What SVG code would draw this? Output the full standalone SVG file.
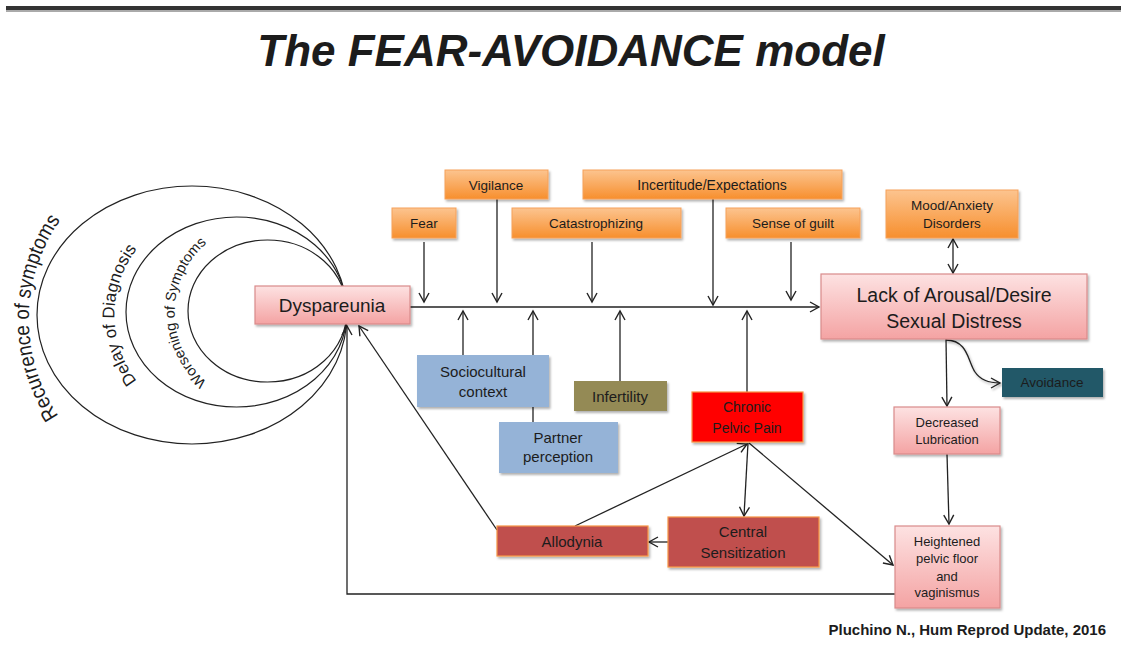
<svg xmlns="http://www.w3.org/2000/svg" width="1121" height="646" viewBox="0 0 1121 646">
<defs>
<style>
text{font-family:"Liberation Sans",Arial,sans-serif;fill:#1c1c1c;text-anchor:middle}
.ln{fill:none;stroke:#222;stroke-width:1.3}
.ar{marker-end:url(#ah)}
.pink{fill:url(#gPink);stroke:#d98b8b;stroke-width:1.2}
.org{fill:url(#gOrg);stroke:#f6a15a;stroke-width:1}
.blue{fill:#95b3d7}
.red{fill:#ff0000;stroke:#f79646;stroke-width:1.2}
.brick{fill:#c0504d;stroke:#f79646;stroke-width:1.2}
.ell{fill:none;stroke:#222;stroke-width:1.2}
</style>
<linearGradient id="gPink" x1="0" y1="0" x2="0" y2="1"><stop offset="0" stop-color="#fde2e2"/><stop offset="1" stop-color="#f4a3a3"/></linearGradient>
<linearGradient id="gOrg" x1="0" y1="0" x2="0" y2="1"><stop offset="0" stop-color="#fcc48f"/><stop offset="1" stop-color="#f78f2e"/></linearGradient>
<filter id="sh" x="-10%" y="-10%" width="130%" height="140%"><feDropShadow dx="1.5" dy="2" stdDeviation="1" flood-color="#000" flood-opacity="0.3"/></filter>
<marker id="ah" markerUnits="userSpaceOnUse" markerWidth="14" markerHeight="14" refX="10" refY="6" orient="auto-start-reverse"><path d="M1,1 L10,6 L1,11" fill="none" stroke="#222" stroke-width="1.4"/></marker>
<path id="arcR" d="M 66 426 A 172 172 0 0 1 68 210"/>
<path id="arcD" d="M 141 386 A 108 108 0 0 1 141 244"/>
<path id="arcW" d="M 212 386 A 91 91 0 0 1 212 239"/>
</defs>

<rect x="6" y="6" width="1115" height="4" fill="#333"/>
<rect x="6" y="10" width="1115" height="2" fill="#aaa"/>
<text x="571" y="66" font-size="44" font-weight="bold" font-style="italic" fill="#000">The FEAR-AVOIDANCE model</text>

<g id="cycles">
<ellipse class="ell" cx="192" cy="315" rx="155" ry="129"/>
<ellipse class="ell" cx="236.5" cy="312" rx="110.5" ry="95"/>
<ellipse class="ell" cx="267.5" cy="311" rx="79.5" ry="71"/>
<text font-size="21"><textPath href="#arcR" startOffset="50%" textLength="208" lengthAdjust="spacingAndGlyphs">Recurrence of symptoms</textPath></text>
<text font-size="17"><textPath href="#arcD" startOffset="50%">Delay of Diagnosis</textPath></text>
<text font-size="14.5"><textPath href="#arcW" startOffset="50%">Worsening of Symptoms</textPath></text>
</g>

<g id="connectors">
<path class="ln ar" d="M410 307 H819"/>
<path class="ln ar" d="M424 242 V302"/>
<path class="ln ar" d="M497 199 V302"/>
<path class="ln ar" d="M592 242 V302"/>
<path class="ln ar" d="M713 199 V305"/>
<path class="ln ar" d="M791 242 V300"/>
<path class="ln ar" d="M463 355 V311"/>
<path class="ln ar" d="M533 355 V311"/>
<path class="ln" d="M533 407 V422"/>
<path class="ln ar" d="M620 381 V311"/>
<path class="ln ar" d="M747 392 V311"/>
<path class="ln ar" d="M953 239 V273" marker-start="url(#ah)"/>
<path class="ln ar" d="M946 339 L947 406"/>
<path class="ln ar" d="M946 340 C968 340 968 362 975 372 C981 381 990 383 1000 383" filter="url(#sh)"/>
<path class="ln ar" d="M947 454 L949 524"/>
<path class="ln ar" d="M748 443 L744 516"/>
<path class="ln ar" d="M575 526 L747 444"/>
<path class="ln ar" d="M668 542 H649"/>
<path class="ln ar" d="M749 443 L893 565"/>
<path class="ln ar" d="M497 530 L359 326"/>
<path class="ln ar" d="M895 594 H347 V326"/>
</g>

<g id="dyspareunia"><rect class="pink" x="255" y="286" width="155" height="38" filter="url(#sh)"/><text x="332" y="312" font-size="19">Dyspareunia</text></g>
<g id="fear"><rect class="org" x="392" y="208" width="64" height="30" filter="url(#sh)"/><text x="424" y="228" font-size="13.5">Fear</text></g>
<g id="vigilance"><rect class="org" x="445" y="170" width="103" height="29" filter="url(#sh)"/><text x="496" y="190" font-size="13.5">Vigilance</text></g>
<g id="catastrophizing"><rect class="org" x="512" y="208" width="169" height="30" filter="url(#sh)"/><text x="596" y="228" font-size="13.5">Catastrophizing</text></g>
<g id="incertitude"><rect class="org" x="583" y="170" width="259" height="29" filter="url(#sh)"/><text x="712" y="190" font-size="14">Incertitude/Expectations</text></g>
<g id="guilt"><rect class="org" x="726" y="208" width="134" height="30" filter="url(#sh)"/><text x="793" y="228" font-size="13.5">Sense of guilt</text></g>
<g id="mood"><rect class="org" x="886" y="190" width="132" height="48" filter="url(#sh)"/><text x="952" y="210" font-size="13.5">Mood/Anxiety</text><text x="952" y="228" font-size="13.5">Disorders</text></g>
<g id="lack"><rect class="pink" x="821" y="274" width="266" height="65" filter="url(#sh)"/><text x="954" y="302" font-size="19.5">Lack of Arousal/Desire</text><text x="954" y="328" font-size="19.5">Sexual Distress</text></g>
<g id="sociocultural"><rect class="blue" x="417" y="355" width="132" height="52" filter="url(#sh)"/><text x="483" y="377" font-size="15">Sociocultural</text><text x="483" y="397" font-size="15">context</text></g>
<g id="partner"><rect class="blue" x="499" y="422" width="119" height="51" filter="url(#sh)"/><text x="558" y="443" font-size="15">Partner</text><text x="558" y="462" font-size="15">perception</text></g>
<g id="infertility"><rect x="574" y="381" width="93" height="30" fill="#948a54" filter="url(#sh)"/><text x="620" y="402" font-size="15">Infertility</text></g>
<g id="chronic"><rect class="red" x="692" y="392" width="111" height="50" filter="url(#sh)"/><text x="747" y="412" font-size="14">Chronic</text><text x="747" y="433" font-size="14">Pelvic Pain</text></g>
<g id="central"><rect class="brick" x="668" y="517" width="151" height="50" filter="url(#sh)"/><text x="743" y="537" font-size="15">Central</text><text x="743" y="558" font-size="15">Sensitization</text></g>
<g id="allodynia"><rect class="brick" x="497" y="526" width="151" height="30" filter="url(#sh)"/><text x="572" y="547" font-size="15">Allodynia</text></g>
<g id="avoidance"><rect x="1002" y="368" width="101" height="29" fill="#215968" filter="url(#sh)"/><text x="1052" y="387" font-size="13.5">Avoidance</text></g>
<g id="lubrication"><rect class="pink" x="894" y="407" width="106" height="47" filter="url(#sh)"/><text x="947" y="427" font-size="13">Decreased</text><text x="947" y="444" font-size="13">Lubrication</text></g>
<g id="heightened"><rect class="pink" x="895" y="526" width="105" height="82" filter="url(#sh)"/><text x="947" y="546" font-size="13">Heightened</text><text x="947" y="563" font-size="13">pelvic floor</text><text x="947" y="581" font-size="13">and</text><text x="947" y="597" font-size="13">vaginismus</text></g>

<text x="1106" y="635" font-size="15" font-weight="bold" fill="#000" style="text-anchor:end">Pluchino N., Hum Reprod Update, 2016</text>
</svg>
